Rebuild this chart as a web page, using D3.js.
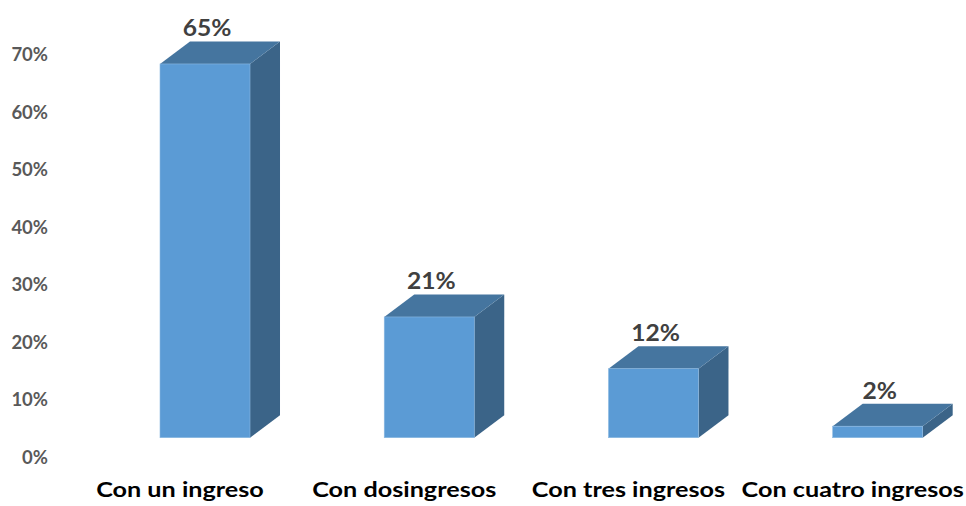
<!DOCTYPE html>
<html>
<head>
<meta charset="utf-8">
<script src="https://cdn.jsdelivr.net/npm/d3@7"></script>
<style>
  body { margin: 0; background: #fff; }
  svg { display: block; font-family: Lato, "Open Sans", sans-serif; }
</style>
</head>
<body>
<div id="chart"></div>
<script>
// data
var categories = ["Con un ingreso", "Con dosingresos", "Con tres ingresos", "Con cuatro ingresos"];
var values = [0.65, 0.21, 0.12, 0.02];
var valueLabels = ["65%", "21%", "12%", "2%"];
var yTicks = [0, 0.1, 0.2, 0.3, 0.4, 0.5, 0.6, 0.7];

var width = 966, height = 506;
var depthX = 30, depthY = 22.5;   // 3d offset of the bars
var labelShift = 19.6;            // axis labels sit lower than the front base

var svg = d3.select("#chart").append("svg")
    .attr("width", width)
    .attr("height", height);

// scales
var x = d3.scaleBand()
    .domain(categories)
    .range([160, 922.7])
    .paddingInner(0.5986)
    .paddingOuter(0);

var yScale = d3.scaleLinear()
    .domain([0, 0.7])
    .range([437.7, 35.2]);

// y axis
var yAxis = svg.append("g")
    .attr("transform", "translate(48," + labelShift + ")")
    .call(d3.axisLeft(yScale).tickValues(yTicks).tickFormat(d3.format(".0%")).tickSize(0).tickPadding(0));
yAxis.select(".domain").remove();
yAxis.selectAll("text")
    .attr("fill", "#595959")
    .style("font-size", "18.5px")
    .style("font-weight", "bold")
    .style("font-family", "Lato, sans-serif");

// bars
var bars = svg.selectAll(".bar")
    .data(values)
    .enter().append("g")
    .attr("class", "bar");

var bw = x.bandwidth();

// side face
bars.append("path")
    .attr("fill", "#3B6488")
    .attr("d", (d, i) => {
      var x1 = x(categories[i]) + bw, y0 = yScale(0), y1 = yScale(d);
      return "M" + x1 + "," + y1 + "L" + (x1 + depthX) + "," + (y1 - depthY) +
             "L" + (x1 + depthX) + "," + (y0 - depthY) + "L" + x1 + "," + y0 + "Z";
    });

// top face
bars.append("path")
    .attr("fill", "#45759F")
    .attr("d", (d, i) => {
      var x0 = x(categories[i]), y1 = yScale(d);
      return "M" + x0 + "," + y1 + "L" + (x0 + depthX) + "," + (y1 - depthY) +
             "L" + (x0 + bw + depthX) + "," + (y1 - depthY) + "L" + (x0 + bw) + "," + y1 + "Z";
    });

// front face
bars.append("rect")
    .attr("x", (d, i) => x(categories[i]))
    .attr("y", d => yScale(d))
    .attr("width", bw)
    .attr("height", d => yScale(0) - yScale(d))
    .attr("fill", "#5B9BD5")
    .attr("stroke", "#8DB9E2")
    .attr("stroke-width", 0.6);

// value labels
svg.selectAll(".val")
    .data(values)
    .enter().append("text")
    .attr("class", "val")
    .attr("transform", (d, i) => "translate(" + (x(categories[i]) + bw / 2 + 2) + "," + (yScale(d) - depthY - 5) + ") scale(1.07,1)")
    .attr("text-anchor", "middle")
    .attr("fill", "#404040")
    .style("font-size", "23px")
    .style("font-weight", "bold")
    .text((d, i) => valueLabels[i]);

// category labels (reference text is stretched wide)
svg.selectAll(".cat")
    .data(categories)
    .enter().append("text")
    .attr("class", "cat")
    .attr("transform", d => "translate(" + (x(d) + bw / 2 - 25) + ",497) scale(1.2,1)")
    .attr("text-anchor", "middle")
    .attr("fill", "#000")
    .style("font-size", "21px")
    .style("font-weight", "bold")
    .text(d => d);
</script>
</body>
</html>
